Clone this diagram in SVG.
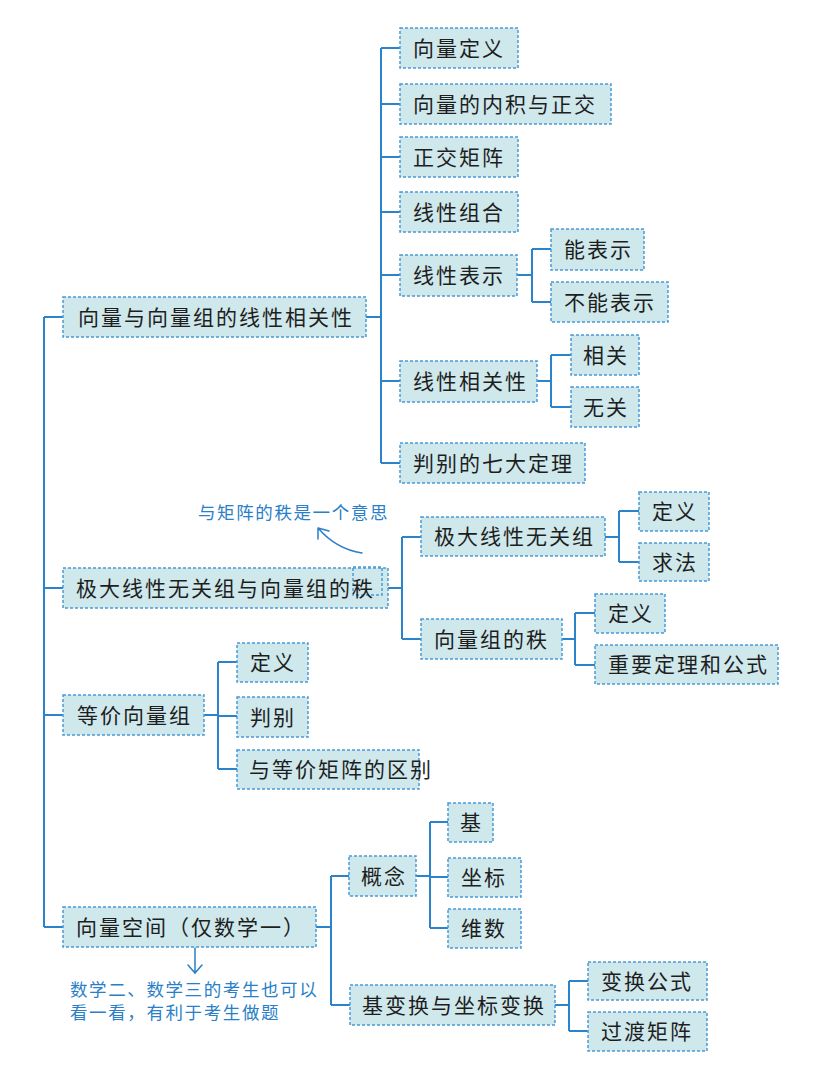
<svg xmlns="http://www.w3.org/2000/svg" width="816" height="1081" viewBox="0 0 816 1081">
<defs>
<style>
.box{fill:#cfe8ec;stroke:#4b9ad8;stroke-width:1.5;stroke-dasharray:3 2}
.t{font-family:"Noto Sans CJK SC","Noto Sans",sans-serif;font-size:21px;fill:#1e1e1e;letter-spacing:2px}
.c{fill:none;stroke:#2b83cc;stroke-width:2}
.note{font-family:"Noto Sans CJK SC",sans-serif;font-size:17.5px;fill:#2a7fc8;letter-spacing:1.6px}
.na{fill:none;stroke:#2a7fc8;stroke-width:1.5;stroke-linecap:round}
</style>
</defs>
<rect width="816" height="1081" fill="#ffffff"/>
<g id="connectors">
<path class="c" d="M44,317V927M44,317H63M44,588H63M44,715H63M44,927H63"/>
<path class="c" d="M366,317H381M381,48V463M381,48H400M381,104H400M381,157H400M381,212H400M381,275H400M381,381H400M381,463H400"/>
<path class="c" d="M517,275H532M532,249V302M532,249H551M532,302H551"/>
<path class="c" d="M537,381H551M551,355V407M551,355H571M551,407H571"/>
<path class="c" d="M388,588H402M402,537V639M402,537H421M402,639H421"/>
<path class="c" d="M605,537H619M619,511V562M619,511H639M619,562H639"/>
<path class="c" d="M562,639H575M575,613V665M575,613H595M575,665H595"/>
<path class="c" d="M204,715H218M218,662V769M218,662H237M218,716H237M218,769H237"/>
<path class="c" d="M316,927H331M331,876V1005M331,876H349M331,1005H350"/>
<path class="c" d="M416,876H430M430,822V928M430,822H448M430,877H448M430,928H448"/>
<path class="c" d="M555,1005H569M569,981V1031M569,981H588M569,1031H588"/>
</g>
<g id="n1"><rect class="box" x="63" y="297" width="303" height="40"/><text class="t" x="78" y="324.5">向量与向量组的线性相关性</text></g>
<g id="n1a"><rect class="box" x="400" y="28" width="118" height="40"/><text class="t" x="413" y="55.5">向量定义</text></g>
<g id="n1b"><rect class="box" x="400" y="84" width="211" height="40"/><text class="t" x="413" y="111.5">向量的内积与正交</text></g>
<g id="n1c"><rect class="box" x="400" y="137" width="118" height="40"/><text class="t" x="413" y="164.5">正交矩阵</text></g>
<g id="n1d"><rect class="box" x="400" y="192" width="118" height="40"/><text class="t" x="413" y="219.5">线性组合</text></g>
<g id="n1e"><rect class="box" x="400" y="255" width="117" height="41"/><text class="t" x="413" y="283">线性表示</text></g>
<g id="n1e1"><rect class="box" x="551" y="229" width="93" height="41"/><text class="t" x="564" y="257">能表示</text></g>
<g id="n1e2"><rect class="box" x="551" y="282" width="117" height="40"/><text class="t" x="564" y="309.5">不能表示</text></g>
<g id="n1f"><rect class="box" x="400" y="361" width="137" height="41"/><text class="t" x="413" y="389">线性相关性</text></g>
<g id="n1f1"><rect class="box" x="571" y="335" width="68" height="40"/><text class="t" x="583" y="362.5">相关</text></g>
<g id="n1f2"><rect class="box" x="571" y="387" width="68" height="40"/><text class="t" x="583" y="414.5">无关</text></g>
<g id="n1g"><rect class="box" x="400" y="443" width="185" height="40"/><text class="t" x="413" y="470.5">判别的七大定理</text></g>
<g id="n2"><rect class="box" x="63" y="568" width="325" height="40"/><rect class="box" x="353" y="567" width="29" height="28" style="fill:none"/><text class="t" x="76" y="595.5">极大线性无关组与向量组的秩</text></g>
<g id="n2a"><rect class="box" x="421" y="517" width="184" height="39"/><text class="t" x="434" y="544">极大线性无关组</text></g>
<g id="n2a1"><rect class="box" x="639" y="492" width="70" height="39"/><text class="t" x="652" y="519">定义</text></g>
<g id="n2a2"><rect class="box" x="639" y="543" width="70" height="38"/><text class="t" x="652" y="569.5">求法</text></g>
<g id="n2b"><rect class="box" x="421" y="619" width="141" height="40"/><text class="t" x="434" y="646.5">向量组的秩</text></g>
<g id="n2b1"><rect class="box" x="595" y="594" width="70" height="39"/><text class="t" x="608" y="621">定义</text></g>
<g id="n2b2"><rect class="box" x="595" y="645" width="183" height="39"/><text class="t" x="608" y="672">重要定理和公式</text></g>
<g id="n3"><rect class="box" x="63" y="695" width="141" height="40"/><text class="t" x="77" y="722.5">等价向量组</text></g>
<g id="n3a"><rect class="box" x="237" y="643" width="71" height="39"/><text class="t" x="250" y="670">定义</text></g>
<g id="n3b"><rect class="box" x="237" y="697" width="71" height="40"/><text class="t" x="250" y="724.5">判别</text></g>
<g id="n3c"><rect class="box" x="237" y="750" width="182" height="39"/><text class="t" x="249" y="777">与等价矩阵的区别</text></g>
<g id="n4"><rect class="box" x="63" y="907" width="253" height="40"/><text class="t" x="76" y="934.5">向量空间（仅数学一）</text></g>
<g id="n4a"><rect class="box" x="349" y="856" width="67" height="40"/><text class="t" x="361" y="883.5">概念</text></g>
<g id="n4a1"><rect class="box" x="448" y="803" width="45" height="39"/><text class="t" x="460" y="830">基</text></g>
<g id="n4a2"><rect class="box" x="448" y="858" width="73" height="39"/><text class="t" x="461" y="885">坐标</text></g>
<g id="n4a3"><rect class="box" x="448" y="909" width="73" height="39"/><text class="t" x="461" y="936">维数</text></g>
<g id="n4b"><rect class="box" x="350" y="985" width="205" height="40"/><text class="t" x="362" y="1012.5">基变换与坐标变换</text></g>
<g id="n4b1"><rect class="box" x="588" y="962" width="119" height="38"/><text class="t" x="601" y="988.5">变换公式</text></g>
<g id="n4b2"><rect class="box" x="588" y="1012" width="119" height="39"/><text class="t" x="601" y="1039">过渡矩阵</text></g>
<g id="notes">
<text class="note" x="198" y="519">与矩阵的秩是一个意思</text>
<path class="na" d="M362,553Q336,549 318,528M318,528L318,539M318,528L329,531"/>
<path class="na" d="M195,948V973M188,965L195,973L202,965"/>
<text class="note" x="70" y="996">数学二、数学三的考生也可以</text>
<text class="note" x="70" y="1019">看一看，有利于考生做题</text>
</g>
</svg>
